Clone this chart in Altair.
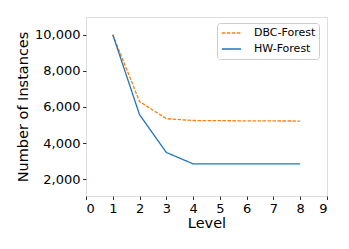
import altair as alt
import pandas as pd

levels = [1, 2, 3, 4, 5, 6, 7, 8]
dbc_forest = [10000, 6300, 5350, 5250, 5240, 5230, 5225, 5220]
hw_forest = [10000, 5570, 3480, 2850, 2850, 2850, 2850, 2850]
series_names = ["DBC-Forest", "HW-Forest"]
series_colors = ["#ff7f0e", "#1f77b4"]
x_ticks = [0, 1, 2, 3, 4, 5, 6, 7, 8, 9]
y_ticks = [2000, 4000, 6000, 8000, 10000]

rows = []
for name, vals in zip(series_names, [dbc_forest, hw_forest]):
    for lv, v in zip(levels, vals):
        rows.append({"Level": lv, "Instances": v, "Series": name})
df = pd.DataFrame(rows)

FONT = "DejaVu Sans"

chart = alt.Chart(df).mark_line(strokeWidth=1.3).encode(
    x=alt.X("Level:Q",
            scale=alt.Scale(domain=[0, 9], nice=False, zero=False),
            axis=alt.Axis(values=x_ticks, title="Level", grid=False,
                          domain=False, tickColor="#333", tickSize=3.5,
                          labelPadding=2.5, labelFontSize=13, labelFont=FONT,
                          labelColor="#000", titleFont=FONT, titleFontSize=14.5,
                          titleFontWeight="normal", titleColor="#000",
                          titleX=120.5, titleY=27, titleBaseline="middle",
                          titleAlign="center")),
    y=alt.Y("Instances:Q",
            scale=alt.Scale(domain=[1070, 10980], nice=False, zero=False),
            axis=alt.Axis(values=y_ticks, format=",d", title="Number of Instances",
                          grid=False, domain=False, tickColor="#333", tickSize=3.5,
                          labelPadding=2.5, labelFontSize=13, labelFont=FONT,
                          labelColor="#000", titleFont=FONT, titleFontSize=14.5,
                          titleFontWeight="normal", titleColor="#000",
                          titleAngle=-90, titleX=-63, titleY=89.5,
                          titleBaseline="middle", titleAlign="center")),
    color=alt.Color("Series:N",
                    scale=alt.Scale(domain=series_names, range=series_colors),
                    legend=alt.Legend(title=None, orient="none", legendX=131, legendY=6,
                                      symbolType="stroke", symbolSize=372,
                                      symbolStrokeWidth=1.3, symbolOffset=1,
                                      labelFont=FONT, clipHeight=14,
                                      labelFontSize=11, labelColor="#000",
                                      labelOffset=12, padding=3, rowPadding=2,
                                      strokeColor="#cccccc", cornerRadius=3,
                                      fillColor="white")),
    strokeDash=alt.StrokeDash("Series:N",
                              scale=alt.Scale(domain=series_names,
                                              range=[[3.5, 1.5], [1, 0]]),
                              legend=None),
).properties(
    width=241,
    height=179,
    padding={"left": 78, "top": 9, "right": 14, "bottom": 45},
    autosize=alt.AutoSizeParams(type="none"),
).configure_view(
    stroke="#777", strokeWidth=1
).configure(background="white")

chart.save("out.html", embed_options={"renderer": "svg", "actions": False})
